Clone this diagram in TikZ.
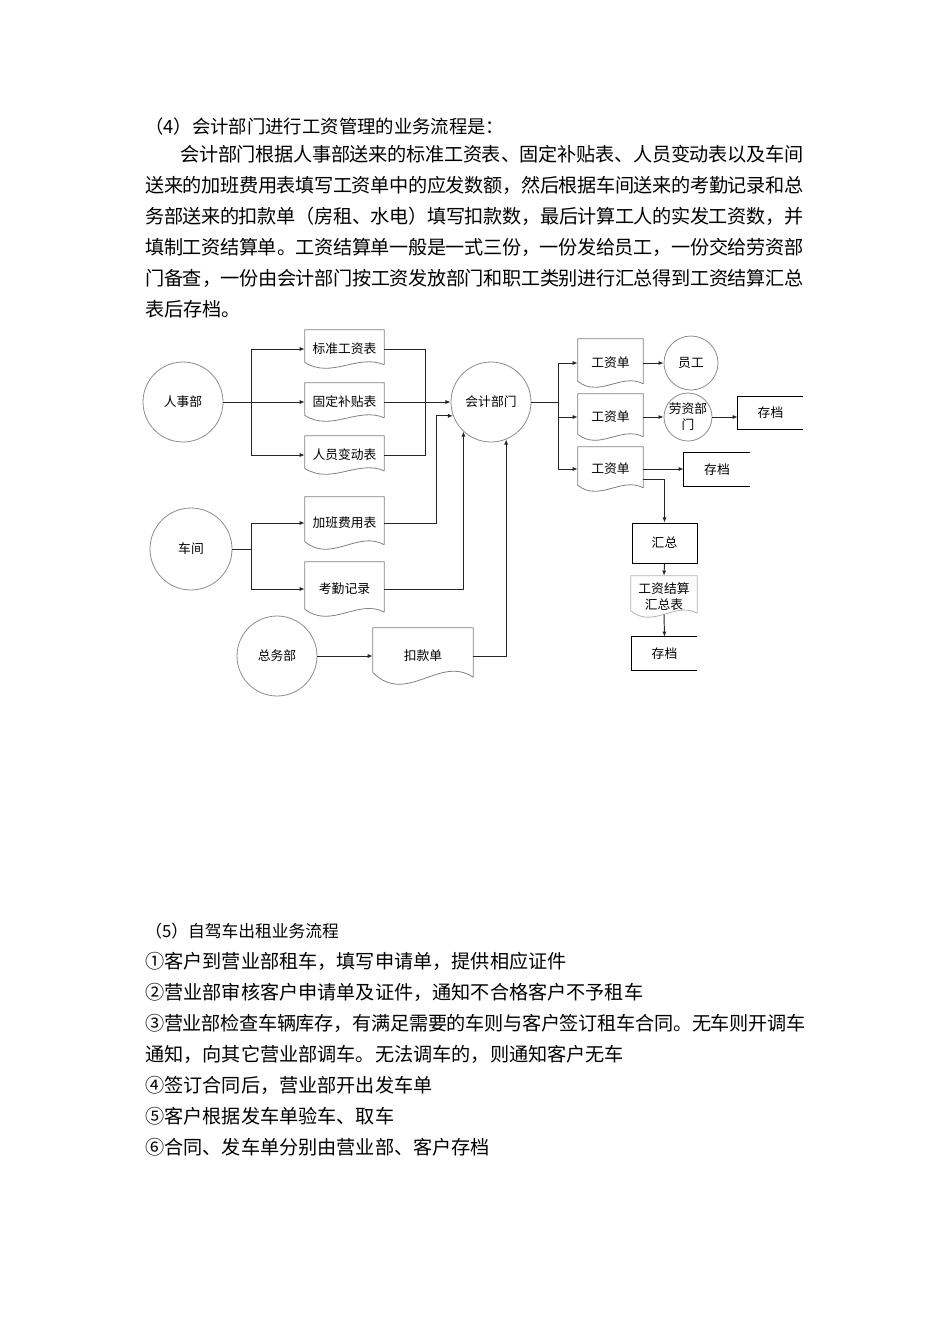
\documentclass[tikz,border=0pt]{standalone}
\usepackage{fontspec}
\setmainfont{Noto Sans CJK SC}
\usetikzlibrary{calc,arrows.meta}
\XeTeXlinebreaklocale "zh"
\XeTeXlinebreakskip=0pt plus 1pt minus 0.5pt

\newcommand{\lbl}{\fontsize{8pt}{10pt}\selectfont}
\newcommand{\mainsize}{\fontsize{12pt}{14pt}\selectfont}
% one justified line of the paragraph: #1 width, #2 text
\newcommand{\jline}[2]{\parbox[t]{#1}{\parfillskip=0pt #2}}
% wavy outline of a document node: #1 node, #2 wave size
\newcommand{\docframe}[2]{\draw[docline] ($(#1.south east)+(0,-7*#2)$) -- (#1.north east) -- (#1.north west) -- ($(#1.south west)+(0,-12*#2)$) .. controls ($(#1.south west)!0.333!(#1.south east)+(0,22*#2)$) and ($(#1.south east)!0.333!(#1.south west)+(0,-30*#2)$) .. ($(#1.south east)+(0,-7*#2)$);}
% store box, open on the right
\newcommand{\openbox}[1]{\draw[boxline] (#1.north east) -- (#1.north west) -- (#1.south west) -- (#1.south east);}

\begin{document}
\begin{tikzpicture}[x=0.6266pt, y=-0.6266pt,
  dsize/.style 2 args={minimum width=#1*0.6266pt, minimum height=#2*0.6266pt},
  ent/.style={circle, draw=black!45, line width=0.5pt, inner sep=0pt, minimum size=#1*0.6266pt, font=\lbl, align=center},
  ent/.default=80,
  docu/.style={rectangle, inner sep=0pt, font=\lbl, align=center},
  store/.style={rectangle, inner sep=0pt, font=\lbl},
  proc/.style={rectangle, draw=black, line width=0.6pt, inner sep=0pt, font=\lbl},
  docline/.style={draw=black!50, line width=0.5pt},
  boxline/.style={draw=black, line width=0.6pt},
  link/.style={draw=black!85, line width=0.6pt},
  flow/.style={link, -{Latex[length=3.2pt,width=2.6pt]}},
  txt/.style={anchor=base west, inner sep=0pt, font=\mainsize}]
\useasboundingbox (0,0) rectangle (950,1344); % page

% text above the chart
\node[txt, font=\fontsize{11.5pt}{14pt}\selectfont] (h4) at (145,133) {（4）会计部门进行工资管理的业务流程是：};
\node[txt] (p1) at (180,161) {\jline{390.4pt}{会计部门根据人事部送来的标准工资表、固定补贴表、人员变动表以及车间}};
\node[txt] (p2) at (145,192) {\jline{412.3pt}{送来的加班费用表填写工资单中的应发数额，然后根据车间送来的考勤记录和总}};
\node[txt] (p3) at (145,223) {\jline{412.3pt}{务部送来的扣款单（房租、水电）填写扣款数，最后计算工人的实发工资数，并}};
\node[txt] (p4) at (145,254) {\jline{412.3pt}{填制工资结算单。工资结算单一般是一式三份，一份发给员工，一份交给劳资部}};
\node[txt] (p5) at (145,285) {\jline{412.3pt}{门备查，一份由会计部门按工资发放部门和职工类别进行汇总得到工资结算汇总}};
\node[txt] (p6) at (145,316) {表后存档。};

% sources
\node[ent] (rs) at (183,402) {人事部};
\node[ent=82] (cj) at (191,549) {车间};
\node[ent] (zw) at (277,656) {总务部};
\node[ent] (kj) at (491,402) {会计部门};

% incoming documents
\node[docu, dsize={79}{38}] (bz) at (344.5,349) {标准工资表}; \docframe{bz}{0.5}
\node[docu, dsize={79}{38}] (gd) at (344.5,402) {固定补贴表}; \docframe{gd}{0.5}
\node[docu, dsize={79}{38}] (ry) at (344.5,455) {人员变动表}; \docframe{ry}{0.5}
\node[docu, dsize={79}{52}] (jb) at (344.5,523) {加班费用表}; \docframe{jb}{0.65}
\node[docu, dsize={79}{54}] (kq) at (344.5,589) {考勤记录}; \docframe{kq}{0.6}
\node[docu, dsize={100}{56}] (kk) at (423,656) {扣款单}; \docframe{kk}{1}

% outgoing documents
\node[docu, dsize={65}{48}] (gz1) at (610.5,363) {工资单}; \docframe{gz1}{0.5}
\node[docu, dsize={65}{46}] (gz2) at (610.5,417) {工资单}; \docframe{gz2}{0.5}
\node[docu, dsize={65}{44}] (gz3) at (610.5,469) {工资单}; \docframe{gz3}{0.5}
\node[ent=54] (yg) at (691,363) {员工};
\node[ent=48] (lz) at (688,417) {劳资部\\门};
\node[store, dsize={65}{32}] (cd1) at (770.5,413) {存档}; \openbox{cd1}
\node[store, dsize={66}{33}] (cd2) at (717,469.5) {存档}; \openbox{cd2}
\node[proc, dsize={65}{40}] (hz) at (664.5,543) {汇总};
\node[docu, dsize={66}{41}, font=\fontsize{8pt}{10pt}\selectfont] (js) at (664,596.5) {工资结算\\汇总表};
\draw[draw=black!30, line width=0.5pt] ($(js.south east)+(0,-4)$) -- (js.north east) -- (js.north west) -- ($(js.south west)+(0,-6.6)$) .. controls ($(js.south west)!0.333!(js.south east)+(0,12)$) and ($(js.south east)!0.333!(js.south west)+(0,-16.5)$) .. ($(js.south east)+(0,-4)$); % pale document
\node[store, dsize={65}{33}] (cd3) at (664.5,653.5) {存档}; \openbox{cd3}

% 人事部 to its documents
\coordinate (rsfork) at (251,402);
\draw[link] (rs.east) -- (rsfork);
\draw[flow] (rsfork) |- (bz.west);
\draw[flow] (rsfork) -- (gd.west);
\draw[flow] (rsfork) |- (ry.west);

% documents to 会计部门
\coordinate (kjhub) at (425,402);
\draw[link] (bz.east) -| (kjhub);
\draw[link] (ry.east) -| (kjhub);
\draw[flow] (gd.east) -- (kj.west);
\draw[flow] (jb.east) -- ++(52,0) |- (kj.200);
\draw[flow] (kq.east) -| (kj.227);
\draw[flow] (kk.east) -| (kj.292);

% 车间 and 总务部
\coordinate (cjfork) at (251,549);
\draw[link] (cj.east) -- (cjfork);
\draw[flow] (cjfork) |- (jb.west);
\draw[flow] (cjfork) |- (kq.west);
\draw[flow] (zw.east) -- (kk.west);

% 会计部门 to the three 工资单
\coordinate (kjfork) at (558,402);
\draw[link] (kj.east) -- (kjfork);
\draw[flow] (kjfork) |- (gz1.west);
\draw[flow] (kjfork) |- (gz2.west);
\draw[flow] (kjfork) |- (gz3.west);
\draw[flow] (gz1.east) -- (yg.west);
\draw[flow] (gz2.east) -- (lz.west);
\draw[flow] (lz.east) -- (cd1.west |- lz.east);
\draw[flow] (gz3.east) -- (cd2.west |- gz3.east);
\draw[flow] ($(gz3.east)+(0,10)$) -| (hz.north);
\draw[flow] (hz.south) -- (js.north);
\draw[flow] ($(js.south)+(0,-3)$) -- (cd3.north);

% text below the chart
\node[txt, font=\fontsize{10.5pt}{13pt}\selectfont] (h5) at (145,937) {（5）自驾车出租业务流程};
\node[txt] (q1) at (145,968) {①客户到营业部租车，填写申请单，提供相应证件};
\node[txt] (q2) at (145,999) {②营业部审核客户申请单及证件，通知不合格客户不予租车};
\node[txt] (q3) at (145,1030) {\jline{413.6pt}{③营业部检查车辆库存，有满足需要的车则与客户签订租车合同。无车则开调车}};
\node[txt] (q4) at (145,1061) {通知，向其它营业部调车。无法调车的，则通知客户无车};
\node[txt] (q5) at (145,1092) {④签订合同后，营业部开出发车单};
\node[txt] (q6) at (145,1123) {⑤客户根据发车单验车、取车};
\node[txt] (q7) at (145,1154) {⑥合同、发车单分别由营业部、客户存档};
\end{tikzpicture}
\end{document}
